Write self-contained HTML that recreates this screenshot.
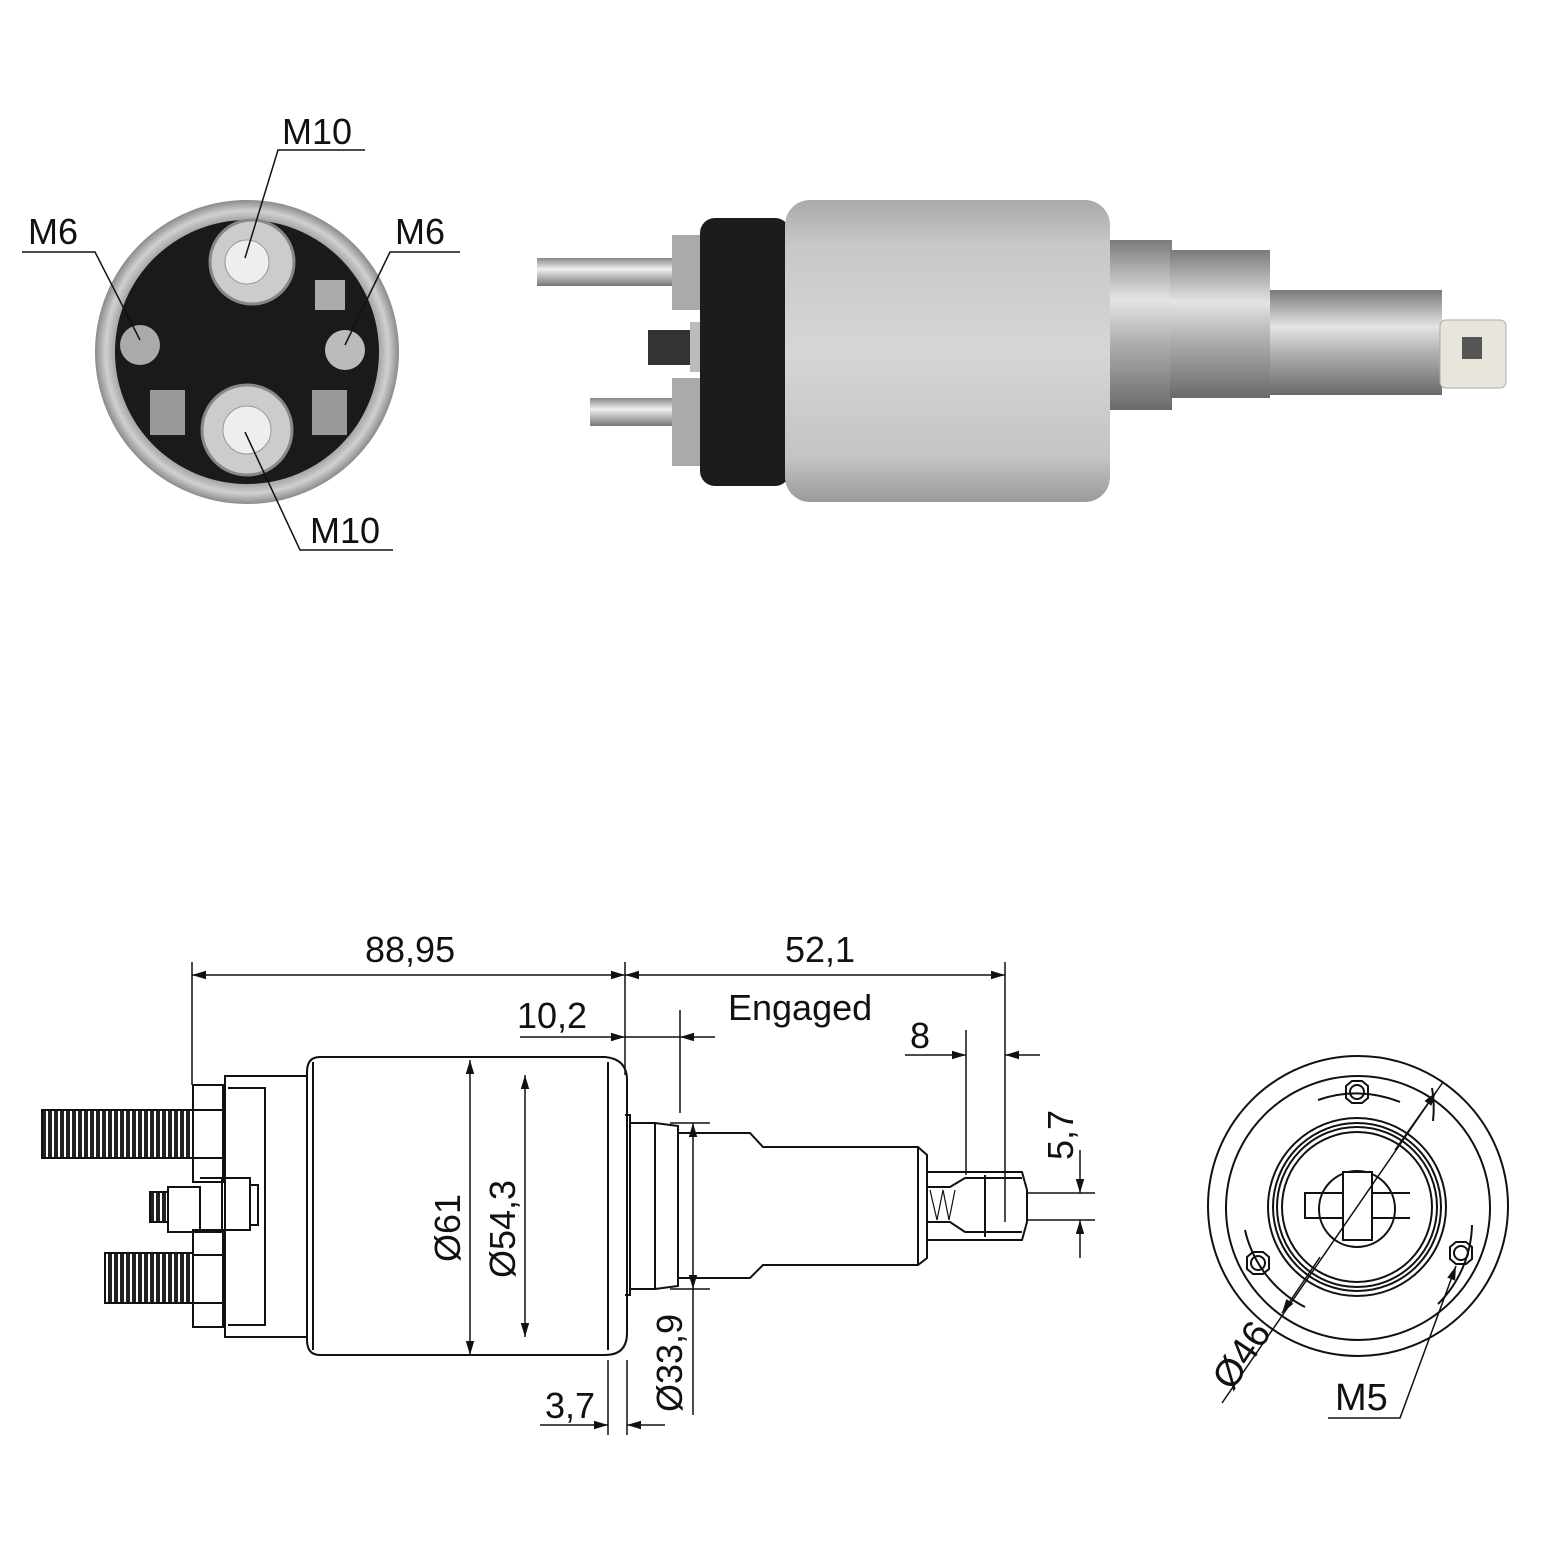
<!DOCTYPE html>
<html><head><meta charset="utf-8"><style>
html,body{margin:0;padding:0;background:#fff;}
svg{display:block;}
text{font-family:"Liberation Sans",sans-serif;fill:#111;}
</style></head><body>
<svg width="1550" height="1550" viewBox="0 0 1550 1550" xmlns="http://www.w3.org/2000/svg">
<defs>
<linearGradient id="cyl" x1="0" y1="0" x2="0" y2="1">
<stop offset="0" stop-color="#a9a9a7"/><stop offset="0.15" stop-color="#c8c8c6"/><stop offset="0.5" stop-color="#d6d6d4"/><stop offset="0.85" stop-color="#c4c4c2"/><stop offset="1" stop-color="#9a9a98"/></linearGradient>
<linearGradient id="tube" x1="0" y1="0" x2="0" y2="1">
<stop offset="0" stop-color="#7a7a7a"/><stop offset="0.35" stop-color="#e4e4e4"/><stop offset="0.6" stop-color="#b0b0b0"/><stop offset="1" stop-color="#6a6a6a"/></linearGradient>
<linearGradient id="stud" x1="0" y1="0" x2="0" y2="1">
<stop offset="0" stop-color="#888"/><stop offset="0.4" stop-color="#eee"/><stop offset="1" stop-color="#777"/></linearGradient>
<radialGradient id="ring"><stop offset="0.85" stop-color="#999"/><stop offset="0.93" stop-color="#d0d0d0"/><stop offset="1" stop-color="#8a8a8a"/></radialGradient>
<pattern id="thr" width="6" height="10" patternUnits="userSpaceOnUse"><rect width="6" height="10" fill="#fff"/><rect x="0" width="4" height="10" fill="#222"/></pattern>
<marker id="a" viewBox="0 0 10 10" refX="10" refY="5" markerWidth="14" markerHeight="14" markerUnits="userSpaceOnUse" orient="auto-start-reverse"><path d="M0,2 L10,5 L0,8 z" fill="#111"/></marker>
</defs>

<circle cx="247" cy="352" r="152" fill="url(#ring)"/>
<circle cx="247" cy="352" r="132" fill="#1a1a1a"/>
<circle cx="252" cy="262" r="42" fill="#ccc" stroke="#888" stroke-width="3"/>
<circle cx="247" cy="262" r="22" fill="#eee" stroke="#999"/>
<circle cx="247" cy="430" r="45" fill="#ccc" stroke="#888" stroke-width="3"/>
<circle cx="247" cy="430" r="24" fill="#eee" stroke="#999"/>
<circle cx="140" cy="345" r="20" fill="#aaa"/>
<circle cx="345" cy="350" r="20" fill="#bbb"/>
<rect x="150" y="390" width="35" height="45" fill="#999"/>
<rect x="312" y="390" width="35" height="45" fill="#999"/>
<rect x="315" y="280" width="30" height="30" fill="#aaa"/>
<g stroke="#111" stroke-width="1.5" fill="none">
<path d="M365,150 H278 L245,258"/>
<path d="M22,252 H95 L140,340"/>
<path d="M460,252 H390 L345,345"/>
<path d="M393,550 H300 L245,432"/>
</g>
<text x="282" y="144" font-size="36">M10</text>
<text x="28" y="244" font-size="36">M6</text>
<text x="395" y="244" font-size="36">M6</text>
<text x="310" y="543" font-size="36">M10</text>

<rect x="537" y="258" width="145" height="28" fill="url(#stud)"/>
<rect x="590" y="398" width="92" height="28" fill="url(#stud)"/>
<rect x="672" y="235" width="35" height="75" fill="#aaa"/>
<rect x="672" y="378" width="35" height="88" fill="#aaa"/>
<rect x="648" y="330" width="55" height="35" fill="#333"/>
<rect x="690" y="322" width="30" height="50" fill="#bbb"/>
<rect x="700" y="218" width="90" height="268" rx="15" fill="#1c1c1c"/>
<rect x="785" y="200" width="325" height="302" rx="25" fill="url(#cyl)"/>
<rect x="1110" y="240" width="62" height="170" fill="url(#tube)"/>
<rect x="1170" y="250" width="100" height="148" fill="url(#tube)"/>
<rect x="1270" y="290" width="172" height="105" fill="url(#tube)"/>
<rect x="1440" y="320" width="66" height="68" rx="6" fill="#e8e6dc" stroke="#aaa"/>
<rect x="1462" y="337" width="20" height="22" fill="#555"/>

<rect x="42" y="1110" width="151" height="48" fill="url(#thr)" stroke="#111" stroke-width="2"/>
<rect x="105" y="1253" width="88" height="50" fill="url(#thr)" stroke="#111" stroke-width="2"/>
<rect x="150" y="1192" width="18" height="30" fill="url(#thr)" stroke="#111" stroke-width="2"/>
<g stroke="#111" stroke-width="2" fill="none">
<path d="M320,1057 H605 Q627,1059 627,1080 V1333 Q627,1355 605,1355 H320 Q307,1355 307,1340 V1072 Q307,1057 320,1057 Z"/>
<line x1="313" y1="1062" x2="313" y2="1350"/>
<line x1="608" y1="1062" x2="608" y2="1350"/>
<path d="M307,1076 H225 V1337 H307"/>
<path d="M228,1088 H265 V1325 H228"/>
<path d="M193,1085 H223 V1182 H193 Z M193,1110 H223 M193,1158 H223"/>
<path d="M193,1230 H223 V1327 H193 Z M193,1255 H223 M193,1303 H223"/>
<path d="M168,1187 H200 V1232 H168 Z"/>
<path d="M200,1178 H222 V1232 H200 M222,1178 H250 V1230 H222"/>
<path d="M250,1185 H258 V1225 H250"/>
<path d="M625,1115 H630 V1295 H625"/>
<path d="M630,1123 H655 V1289 H630"/>
<path d="M655,1123 L678,1126 V1286 L655,1289"/>
<path d="M678,1133 H750 L763,1147 H918 L927,1155 V1258 L918,1265 H763 L750,1278 H678"/>
<line x1="918" y1="1147" x2="918" y2="1265"/>
<path d="M927,1172 H1022 L1027,1190 V1222 L1022,1240 H927"/>
<path d="M927,1187 H950 L965,1178 H1022 M927,1222 H950 L965,1232 H1022"/>
<line x1="985" y1="1175" x2="985" y2="1237"/>
</g>
<path d="M930,1190 L937,1220 L943,1190 L949,1220 L955,1190" stroke="#111" stroke-width="1.2" fill="none"/>

<g stroke="#111" stroke-width="1.5" fill="none">
<line x1="192" y1="962" x2="192" y2="1085"/>
<line x1="625" y1="962" x2="625" y2="1075"/>
<line x1="1005" y1="962" x2="1005" y2="1222"/>
<line x1="192" y1="975" x2="625" y2="975" marker-start="url(#a)" marker-end="url(#a)"/>
<line x1="625" y1="975" x2="1005" y2="975" marker-start="url(#a)" marker-end="url(#a)"/>
<line x1="680" y1="1010" x2="680" y2="1113"/>
<line x1="520" y1="1037" x2="625" y2="1037" marker-end="url(#a)"/>
<line x1="715" y1="1037" x2="680" y2="1037" marker-end="url(#a)"/>
<line x1="625" y1="1037" x2="680" y2="1037"/>
<line x1="966" y1="1030" x2="966" y2="1175"/>
<line x1="905" y1="1055" x2="966" y2="1055" marker-end="url(#a)"/>
<line x1="1040" y1="1055" x2="1005" y2="1055" marker-end="url(#a)"/>
<line x1="1028" y1="1193" x2="1095" y2="1193"/>
<line x1="1028" y1="1220" x2="1095" y2="1220"/>
<line x1="1080" y1="1150" x2="1080" y2="1193" marker-end="url(#a)"/>
<line x1="1080" y1="1258" x2="1080" y2="1220" marker-end="url(#a)"/>
<line x1="470" y1="1060" x2="470" y2="1355" marker-start="url(#a)" marker-end="url(#a)"/>
<line x1="525" y1="1075" x2="525" y2="1337" marker-start="url(#a)" marker-end="url(#a)"/>
<line x1="670" y1="1123" x2="710" y2="1123"/>
<line x1="670" y1="1289" x2="710" y2="1289"/>
<line x1="693" y1="1123" x2="693" y2="1289" marker-start="url(#a)" marker-end="url(#a)"/>
<line x1="693" y1="1289" x2="693" y2="1415"/>
<line x1="608" y1="1360" x2="608" y2="1435"/>
<line x1="627" y1="1360" x2="627" y2="1435"/>
<line x1="540" y1="1425" x2="608" y2="1425" marker-end="url(#a)"/>
<line x1="665" y1="1425" x2="627" y2="1425" marker-end="url(#a)"/>
</g>
<text x="365" y="962" font-size="36">88,95</text>
<text x="785" y="962" font-size="36">52,1</text>
<text x="517" y="1028" font-size="36">10,2</text>
<text x="728" y="1020" font-size="36">Engaged</text>
<text x="910" y="1048" font-size="36">8</text>
<text x="545" y="1418" font-size="36">3,7</text>
<text font-size="36" transform="translate(1073,1160) rotate(-90)">5,7</text>
<text font-size="36" transform="translate(460,1262) rotate(-90)">Ø61</text>
<text font-size="36" transform="translate(515,1278) rotate(-90)">Ø54,3</text>
<text font-size="36" transform="translate(682,1412) rotate(-90)">Ø33,9</text>

<g stroke="#111" stroke-width="2" fill="none">
<circle cx="1358" cy="1206" r="150"/>
<circle cx="1358" cy="1208" r="132"/>
<circle cx="1357" cy="1207" r="89"/>
<circle cx="1357" cy="1207" r="84"/>
<circle cx="1357" cy="1207" r="80"/>
<circle cx="1357" cy="1207" r="75"/>
<circle cx="1357" cy="1209" r="38"/>
<rect x="1343" y="1172" width="29" height="68" fill="#fff"/>
<path d="M1343,1193 H1305 V1218 H1343 M1372,1193 H1410 M1372,1218 H1410"/>
<path d="M1318,1100 A115,115 0 0 1 1400,1102"/>
<path d="M1432,1088 A115,115 0 0 1 1433,1121"/>
<path d="M1245,1230 A115,115 0 0 0 1305,1307"/>
<path d="M1438,1304 A115,115 0 0 0 1472,1225"/>
<path d="M1346,1086 L1352,1081 H1362 L1368,1086 V1098 L1362,1103 H1352 L1346,1098 Z"/>
<circle cx="1357" cy="1092" r="7"/>
<path d="M1247,1257 L1253,1252 H1263 L1269,1257 V1269 L1263,1274 H1253 L1247,1269 Z"/>
<circle cx="1258" cy="1263" r="7"/>
<path d="M1450,1247 L1456,1242 H1466 L1472,1247 V1259 L1466,1264 H1456 L1450,1259 Z"/>
<circle cx="1461" cy="1253" r="7"/>
</g>
<g stroke="#111" stroke-width="1.5" fill="none">
<line x1="1222" y1="1403" x2="1443" y2="1082"/>
<line x1="1395" y1="1150" x2="1436" y2="1092" marker-end="url(#a)"/>
<line x1="1320" y1="1257" x2="1282" y2="1313" marker-end="url(#a)"/>
<path d="M1328,1418 H1400 L1456,1266" marker-end="url(#a)"/>
</g>
<text font-size="38" transform="translate(1232,1392) rotate(-56)">Ø46</text>
<text x="1335" y="1410" font-size="38">M5</text>
</svg>
</body></html>
